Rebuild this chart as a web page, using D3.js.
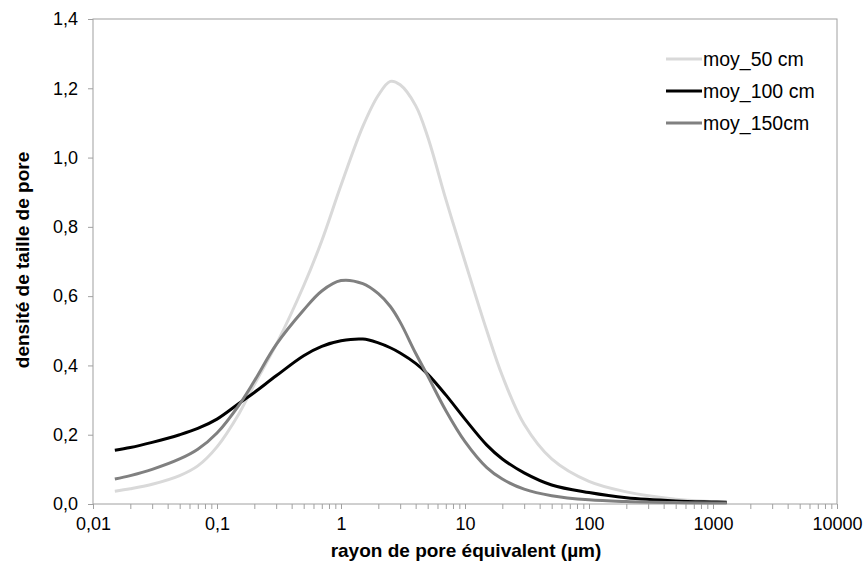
<!DOCTYPE html>
<html><head><meta charset="utf-8">
<script src="https://cdn.jsdelivr.net/npm/d3@7"></script>
<style>body{margin:0;background:#fff;} text{font-family:"Liberation Sans",Arial,sans-serif;}</style>
</head><body><svg id="c" width="866" height="565"></svg>
<script>
const radius = [0.015,0.02,0.03,0.05,0.07,0.1,0.15,0.2,0.3,0.5,0.7,1,1.5,2,2.5,3,4,5,7,10,15,20,30,50,100,200,500,1000,1290];
const moy50  = [0.037,0.044,0.057,0.082,0.11,0.165,0.26,0.345,0.46,0.63,0.76,0.92,1.09,1.18,1.22,1.21,1.15,1.06,0.88,0.70,0.5,0.37,0.23,0.13,0.065,0.035,0.014,0.007,0.005];
const moy100 = [0.155,0.163,0.178,0.2,0.218,0.245,0.29,0.322,0.37,0.428,0.455,0.471,0.476,0.465,0.451,0.436,0.406,0.375,0.315,0.245,0.17,0.13,0.09,0.055,0.033,0.018,0.009,0.006,0.005];
const moy150 = [0.072,0.082,0.1,0.13,0.158,0.205,0.285,0.355,0.46,0.56,0.615,0.645,0.636,0.607,0.57,0.525,0.435,0.37,0.27,0.18,0.105,0.072,0.043,0.024,0.012,0.007,0.004,0.003,0.003];
const seriesNames = ["moy_50 cm","moy_100 cm","moy_150cm"];
const seriesColors = ["#d9d9d9","#000000","#808080"];
const xTicks = [0.01,0.1,1,10,100,1000,10000];
const yTicks = [0,0.2,0.4,0.6,0.8,1.0,1.2,1.4];

const svg = d3.select("#c");
const x = d3.scaleLog().domain([0.01,10000]).range([93,837]);
const y = d3.scaleLinear().domain([0,1.4]).range([504,19]);
const fmt = v => String(v).replace(".",",");
const FONT = "'Liberation Sans',Arial,sans-serif";

// frame
svg.append("rect").attr("x",93).attr("y",19).attr("width",744).attr("height",485)
  .attr("fill","none").attr("stroke","#a0a0a0").attr("stroke-width",1);

// minor ticks
const minor = [];
for (let e=-2;e<4;e++) for (let k=2;k<10;k++) minor.push(k*Math.pow(10,e));
const xa = d3.axisBottom(x).tickValues(xTicks.concat(minor)).tickSize(5)
  .tickFormat(d => xTicks.includes(d) ? (d<1 ? fmt(d) : String(d)) : "");
const gx = svg.append("g").attr("transform","translate(0,504)").call(xa);
gx.select(".domain").remove();
gx.selectAll("line").attr("stroke","#a0a0a0");
gx.selectAll("text").attr("font-size",18).attr("fill","#000").attr("y",26).attr("dy",0)
  .style("font-family",FONT);

const ya = d3.axisLeft(y).tickValues(yTicks).tickSize(5).tickFormat(d => d3.format(".1f")(d).replace(".",","));
const gy = svg.append("g").attr("transform","translate(93,0)").call(ya);
gy.select(".domain").remove();
gy.selectAll("line").attr("stroke","#a0a0a0");
gy.selectAll("text").attr("font-size",18).attr("fill","#000").attr("x",-15)
  .style("font-family",FONT);

const line = d3.line().x((d,i)=>x(radius[i])).y(d=>y(d)).curve(d3.curveCatmullRom.alpha(0.5));
const data = [moy50, moy100, moy150];
data.forEach((s,i)=>{
  svg.append("path").attr("d",line(s)).attr("fill","none").attr("stroke",seriesColors[i]).attr("stroke-width",3);
});

// legend
seriesNames.forEach((n,i)=>{
  const ly = 59 + i*32;
  svg.append("line").attr("x1",666).attr("x2",702).attr("y1",ly).attr("y2",ly).attr("stroke",seriesColors[i]).attr("stroke-width",3);
  svg.append("text").attr("x",703).attr("y",ly+7).attr("font-size",19.5).text(n);
});

svg.append("text").attr("x",466).attr("y",557).attr("text-anchor","middle").attr("font-size",19).attr("font-weight","bold").text("rayon de pore équivalent (µm)");
svg.append("text").attr("transform","translate(29,260) rotate(-90)").attr("text-anchor","middle").attr("font-size",19).attr("font-weight","bold").text("densité de taille de pore");
</script></body></html>
